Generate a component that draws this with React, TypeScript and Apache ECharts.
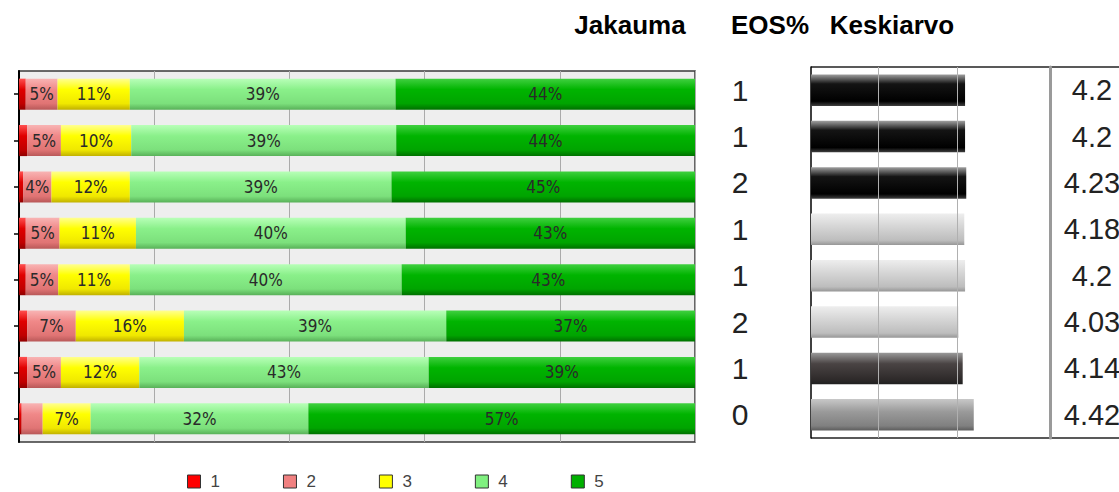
import React, { useEffect, useRef } from "react";
import * as echarts from "echarts";

// ---- data ----
const rows = ["1", "2", "3", "4", "5", "6", "7", "8"];
const answerNames = ["1", "2", "3", "4", "5"];
const share1 = [1.0, 1.2, 0.6, 1.0, 1.0, 1.2, 1.2, 0.4];
const share2 = [4.7, 5.0, 4.2, 5.0, 4.8, 7.2, 5.0, 3.1];
const share3 = [10.7, 10.4, 11.6, 11.3, 10.6, 16.0, 11.6, 7.1];
const share4 = [39.3, 39.2, 38.7, 39.9, 40.2, 38.8, 42.8, 32.2];
const share5 = [44.3, 44.2, 44.9, 42.8, 43.4, 36.8, 39.4, 57.2];
const eosPct = [1, 1, 2, 1, 1, 2, 1, 0];
const means = [4.2, 4.2, 4.23, 4.18, 4.2, 4.03, 4.14, 4.42];
const meanShade = ["black", "black", "black", "light", "light", "light", "dark", "mid"];
const meanGridValues = [2, 4];
const titles = ["Jakauma", "EOS%", "Keskiarvo"];

const COND = "'DejaVu Sans Condensed', 'DejaVu Sans', sans-serif";
const SANS = "'Liberation Sans', Arial, Helvetica, sans-serif";

const vgrad = (stops: [number, string][]) =>
  new echarts.graphic.LinearGradient(0, 0, 0, 1, stops.map(([offset, color]) => ({ offset, color })));

const segFill = [
  vgrad([[0, "#ff5050"], [0.35, "#e00000"], [0.8, "#c00000"], [1, "#900000"]]),
  vgrad([[0, "#f8b4b4"], [0.35, "#f08888"], [0.8, "#e07474"], [1, "#b85858"]]),
  vgrad([[0, "#ffff90"], [0.35, "#ffff00"], [0.8, "#f0e800"], [1, "#c0b000"]]),
  vgrad([[0, "#b8ffb8"], [0.35, "#8af08a"], [0.8, "#7ce07c"], [1, "#58b058"]]),
  vgrad([[0, "#40d040"], [0.35, "#00b400"], [0.8, "#00a400"], [1, "#007000"]]),
];
const legendColors = ["#ff0000", "#f08080", "#ffff00", "#80f080", "#00b000"];

const shadeFill: Record<string, any> = {
  black: vgrad([[0, "#a0a0a0"], [0.3, "#141414"], [0.85, "#000000"], [1, "#404040"]]),
  light: vgrad([[0, "#eeeeee"], [0.4, "#d6d6d6"], [0.85, "#bdbdbd"], [1, "#969696"]]),
  dark: vgrad([[0, "#9a9a9a"], [0.35, "#4a4444"], [0.85, "#2e2a2a"], [1, "#202020"]]),
  mid: vgrad([[0, "#c8c8c8"], [0.4, "#9a9a9a"], [0.85, "#808080"], [1, "#5c5c5c"]]),
};

export default function App() {
  const ref = useRef<HTMLDivElement>(null);
  useEffect(() => {
    if (!ref.current) return;
    const chart = echarts.init(ref.current, undefined, { renderer: "svg" });
    const shares = [share1, share2, share3, share4, share5];

    const leftSeries = shares.map((arr, i) => ({
      name: answerNames[i],
      type: "bar",
      stack: "dist",
      xAxisIndex: 0,
      yAxisIndex: 0,
      barWidth: "67%",
      data: arr,
      itemStyle: { color: segFill[i] },
      label: {
        show: true,
        position: "inside",
        color: "#2a2a2a",
        fontFamily: COND,
        fontSize: 17,
        formatter: (p: any) => (p.value >= 3.5 ? Math.round(p.value) + "%" : ""),
      },
      z: 3,
    }));

    const legendText = { fontFamily: SANS, fontSize: 17, color: "#444", padding: [0, 0, 0, 5] };

    const option: any = {
      animation: false,
      backgroundColor: "#ffffff",
      legend: {
        left: 182,
        top: 468,
        itemWidth: 13,
        itemHeight: 13,
        itemGap: 63,
        icon: "rect",
        textStyle: legendText,
        data: answerNames.map((n, i) => ({
          name: n,
          textStyle: legendText,
          itemStyle: { color: legendColors[i], borderColor: "#333", borderWidth: 1 },
        })),
        selectedMode: false,
      },
      grid: [
        {
          left: 19, top: 71, width: 676, height: 371, outerBoundsMode: "none",
          show: true, backgroundColor: "#eeeeee", borderColor: "#3a3a3a", borderWidth: 1.5,
        },
        { left: 811, top: 67, width: 239, height: 371, outerBoundsMode: "none" },
      ],
      xAxis: [
        {
          type: "value", gridIndex: 0, min: 0, max: 100, interval: 20,
          axisLine: { show: false }, axisTick: { show: false }, axisLabel: { show: false },
          splitLine: { show: true, lineStyle: { color: "#aaaaaa", width: 1 } },
        },
        {
          type: "value", gridIndex: 1, min: 0.3, max: 6.35,
          axisLine: { show: false }, axisTick: { show: false }, axisLabel: { show: false },
          splitLine: { show: false },
        },
      ],
      yAxis: [
        {
          type: "category", gridIndex: 0, data: rows, inverse: true,
          axisLine: { show: true, lineStyle: { color: "#000", width: 2 } },
          axisTick: { show: true, length: 5, alignWithLabel: true, lineStyle: { color: "#000", width: 1.5 } },
          axisLabel: { show: false },
        },
        {
          type: "category", gridIndex: 1, data: rows, inverse: true, position: "left",
          axisLine: { show: true, lineStyle: { color: "#000", width: 1.5 } },
          axisTick: { show: false },
          axisLabel: {
            show: true, margin: 71, align: "center", fontFamily: SANS, fontSize: 30, color: "#222",
            formatter: (_v: string, idx: number) => String(eosPct[idx]),
          },
        },
        {
          type: "category", gridIndex: 1, data: rows, inverse: true, position: "right",
          axisLine: { show: true, lineStyle: { color: "#9a9a9a", width: 3 } },
          axisTick: { show: false },
          axisLabel: {
            show: true, margin: 42, align: "center", fontFamily: SANS, fontSize: 29, color: "#222",
            formatter: (_v: string, idx: number) => String(means[idx]),
          },
        },
      ],
      series: [
        ...leftSeries,
        {
          name: "gridlines",
          type: "scatter",
          xAxisIndex: 1,
          yAxisIndex: 1,
          data: [],
          z: 1,
          silent: true,
          markLine: {
            silent: true,
            symbol: "none",
            label: { show: false },
            lineStyle: { color: "#b0b0b0", type: "solid", width: 1 },
            data: meanGridValues.map((v) => ({ xAxis: v })),
          },
        },
        {
          name: "Keskiarvo",
          type: "bar",
          xAxisIndex: 1,
          yAxisIndex: 1,
          barWidth: "68%",
          z: 3,
          data: means.map((m, i) => ({ value: m, itemStyle: { color: shadeFill[meanShade[i]] } })),
        },
      ],
      graphic: [
        { type: "line", shape: { x1: 811, y1: 67, x2: 1119, y2: 67 }, style: { stroke: "#222", lineWidth: 1.5 } },
        { type: "line", shape: { x1: 811, y1: 438, x2: 1119, y2: 438 }, style: { stroke: "#222", lineWidth: 1.5 } },
        {
          type: "text", x: 630, y: 25,
          style: { text: titles[0], font: `bold 26px ${SANS}`, fill: "#000", align: "center", verticalAlign: "middle" },
        },
        {
          type: "text", x: 770, y: 25,
          style: { text: titles[1], font: `bold 26px ${SANS}`, fill: "#000", align: "center", verticalAlign: "middle" },
        },
        {
          type: "text", x: 892, y: 25,
          style: { text: titles[2], font: `bold 26px ${SANS}`, fill: "#000", align: "center", verticalAlign: "middle" },
        },
      ],
    };
    chart.setOption(option);
    return () => chart.dispose();
  }, []);
  return (
    <div
      ref={ref}
      style={{ position: "absolute", left: 0, top: 0, width: 1119, height: 492 }}
    />
  );
}
